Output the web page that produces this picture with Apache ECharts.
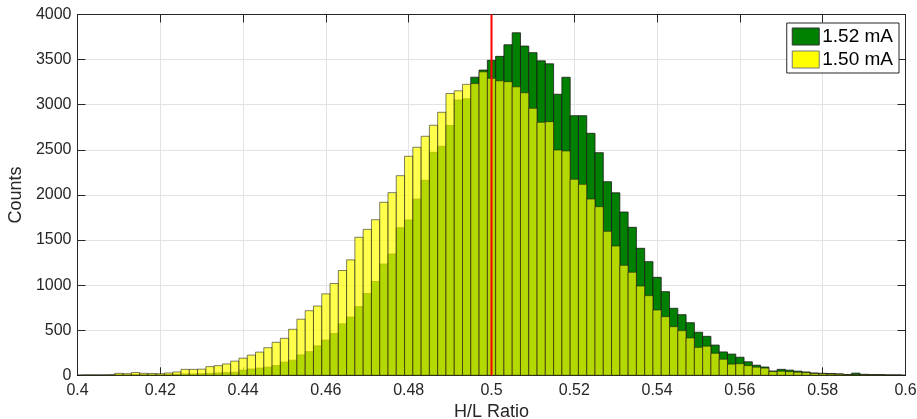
<!DOCTYPE html>
<html>
<head>
<meta charset="utf-8">
<script src="https://cdn.jsdelivr.net/npm/echarts@6/dist/echarts.min.js"></script>
<style>
html,body{margin:0;padding:0;background:#fff;}
#chart{width:917px;height:419px;}
</style>
</head>
<body>
<div id="chart"></div>
<script>
// Bin centers (H/L Ratio)
var binCenters = [
0.400,0.402,0.404,0.406,0.408,0.410,0.412,0.414,0.416,0.418,
0.420,0.422,0.424,0.426,0.428,0.430,0.432,0.434,0.436,0.438,
0.440,0.442,0.444,0.446,0.448,0.450,0.452,0.454,0.456,0.458,
0.460,0.462,0.464,0.466,0.468,0.470,0.472,0.474,0.476,0.478,
0.480,0.482,0.484,0.486,0.488,0.490,0.492,0.494,0.496,0.498,
0.500,0.502,0.504,0.506,0.508,0.510,0.512,0.514,0.516,0.518,
0.520,0.522,0.524,0.526,0.528,0.530,0.532,0.534,0.536,0.538,
0.540,0.542,0.544,0.546,0.548,0.550,0.552,0.554,0.556,0.558,
0.560,0.562,0.564,0.566,0.568,0.570,0.572,0.574,0.576,0.578,
0.580,0.582,0.584,0.586,0.588,0.590,0.592,0.594,0.596,0.598,
0.600];

// Counts for 1.52 mA (green)
var counts152 = [
0,1,1,1,2,8,6,10,9,7,
7,10,11,15,15,18,22,26,30,33,
57,70,80,90,108,146,168,226,262,326,
390,463,570,646,761,907,1040,1234,1345,1636,
1722,1954,2162,2472,2539,2770,3052,3065,3305,3384,
3492,3536,3664,3797,3650,3577,3486,3453,3116,3304,
2878,2878,2683,2468,2146,2023,1810,1641,1408,1260,
1086,927,743,672,583,477,432,335,259,235,
200,150,112,92,48,66,57,46,37,26,
22,20,16,9,24,11,7,7,4,4,
0];

// Counts for 1.50 mA (yellow)
var counts150 = [
0,3,4,3,5,22,18,31,22,20,
18,26,37,66,66,68,96,107,126,157,
190,224,257,306,366,410,510,622,716,768,
903,1018,1162,1280,1530,1618,1725,1918,2025,2213,
2428,2528,2650,2772,2916,3124,3154,3226,3234,3364,
3292,3265,3255,3198,3132,2960,2805,2812,2498,2487,
2173,2117,1954,1869,1596,1433,1219,1142,990,883,
724,650,539,495,414,310,323,244,178,124,
128,107,90,80,41,45,40,34,30,20,
16,14,12,6,6,6,4,4,2,2,
0];

var seriesNames = ['1.52 mA', '1.50 mA'];
var xTickValues = [0.4,0.42,0.44,0.46,0.48,0.5,0.52,0.54,0.56,0.58,0.6];
var yTickValues = [0,500,1000,1500,2000,2500,3000,3500,4000];
var refLineX = [0.5];

var chart = echarts.init(document.getElementById('chart'), null, {renderer:'canvas'});
var halfBin = (binCenters[1] - binCenters[0]) / 2;
var FONT = '"Liberation Sans", Arial, Helvetica, sans-serif';
var AXC = '#262626';

function toPairs(counts){
  return binCenters.map(function(c,i){ return [c, counts[i]]; });
}

function makeRender(fill, opacity){
  return function(params, api){
    var x = api.value(0), y = api.value(1);
    var p0 = api.coord([x - halfBin, y]);
    var p1 = api.coord([x + halfBin, 0]);
    var rect = echarts.graphic.clipRectByRect(
      {x:p0[0], y:p0[1], width:p1[0]-p0[0], height:p1[1]-p0[1]},
      {x:params.coordSys.x, y:params.coordSys.y, width:params.coordSys.width, height:params.coordSys.height}
    );
    if(!rect) return null;
    return {
      type:'rect',
      shape: rect,
      style: {fill: fill, stroke:'#1a1a1a', lineWidth:0.8, opacity: opacity}
    };
  };
}

function axisBase(){
  return {
    type:'value',
    axisLine:{show:true, onZero:false, lineStyle:{color:AXC, width:1}},
    axisTick:{show:true, inside:true, length:8, lineStyle:{color:AXC}},
    splitLine:{show:false}
  };
}

var xMain = axisBase();
Object.assign(xMain, {
  min:xTickValues[0], max:xTickValues[xTickValues.length-1], interval:xTickValues[1]-xTickValues[0],
  position:'bottom',
  name:'H/L Ratio', nameLocation:'middle', nameGap:20,
  nameTextStyle:{fontFamily:FONT, fontSize:18, color:AXC},
  axisLabel:{fontFamily:FONT, fontSize:16, color:AXC, margin:7,
    formatter:function(v){ return String(Math.round(v*1000)/1000); }},
  splitLine:{show:true, lineStyle:{color:'#e3e3e3', width:1}}
});
var xTop = axisBase();
Object.assign(xTop, {
  min:xTickValues[0], max:xTickValues[xTickValues.length-1], interval:xTickValues[1]-xTickValues[0],
  position:'top', axisLabel:{show:false}
});
var yMain = axisBase();
Object.assign(yMain, {
  min:yTickValues[0], max:yTickValues[yTickValues.length-1], interval:yTickValues[1]-yTickValues[0],
  position:'left',
  name:'Counts', nameLocation:'middle', nameGap:42,
  nameTextStyle:{fontFamily:FONT, fontSize:18, color:AXC},
  axisLabel:{fontFamily:FONT, fontSize:16, color:AXC, margin:6,
    formatter:function(v){ return String(v); }},
  splitLine:{show:true, lineStyle:{color:'#e3e3e3', width:1}}
});
var yRight = axisBase();
Object.assign(yRight, {
  min:yTickValues[0], max:yTickValues[yTickValues.length-1], interval:yTickValues[1]-yTickValues[0],
  position:'right', axisLabel:{show:false}
});

var option = {
  backgroundColor:'#ffffff',
  animation:false,
  grid:{left:77.5, right:11.5, top:14.5, bottom:43.7, containLabel:false, outerBoundsMode:'none'},
  xAxis:[xMain, xTop],
  yAxis:[yMain, yRight],
  legend:{
    right:18, top:23,
    orient:'vertical',
    backgroundColor:'#ffffff',
    borderColor:AXC, borderWidth:1, borderRadius:0,
    padding:[4,6,4,5],
    itemWidth:27, itemHeight:17, itemGap:4,
    textStyle:{fontFamily:FONT, fontSize:19, color:'#000', padding:[0,0,0,-2]},
    data:[
      {name:seriesNames[0], icon:'rect', itemStyle:{color:'#008000', borderColor:'#333', borderWidth:1}},
      {name:seriesNames[1], icon:'rect', itemStyle:{color:'#ffff00', borderColor:'#777', borderWidth:1}}
    ]
  },
  series:[
    {
      name:seriesNames[0], type:'custom', xAxisIndex:0, yAxisIndex:0,
      renderItem: makeRender('#008000', 1),
      itemStyle:{color:'#008000'},
      encode:{x:0, y:1},
      data: toPairs(counts152), z:2
    },
    {
      name:seriesNames[1], type:'custom', xAxisIndex:0, yAxisIndex:0,
      renderItem: makeRender('#ffff00', 0.7),
      itemStyle:{color:'#ffff00'},
      encode:{x:0, y:1},
      data: toPairs(counts150), z:3
    },
    {
      name:'ref', type:'line', xAxisIndex:0, yAxisIndex:0,
      data:[[refLineX[0], yTickValues[0]], [refLineX[0], yTickValues[yTickValues.length-1]]],
      symbol:'none', lineStyle:{color:'#ff0000', width:2, opacity:1}, z:10, silent:true
    }
  ]
};
chart.setOption(option);
</script>
</body>
</html>
